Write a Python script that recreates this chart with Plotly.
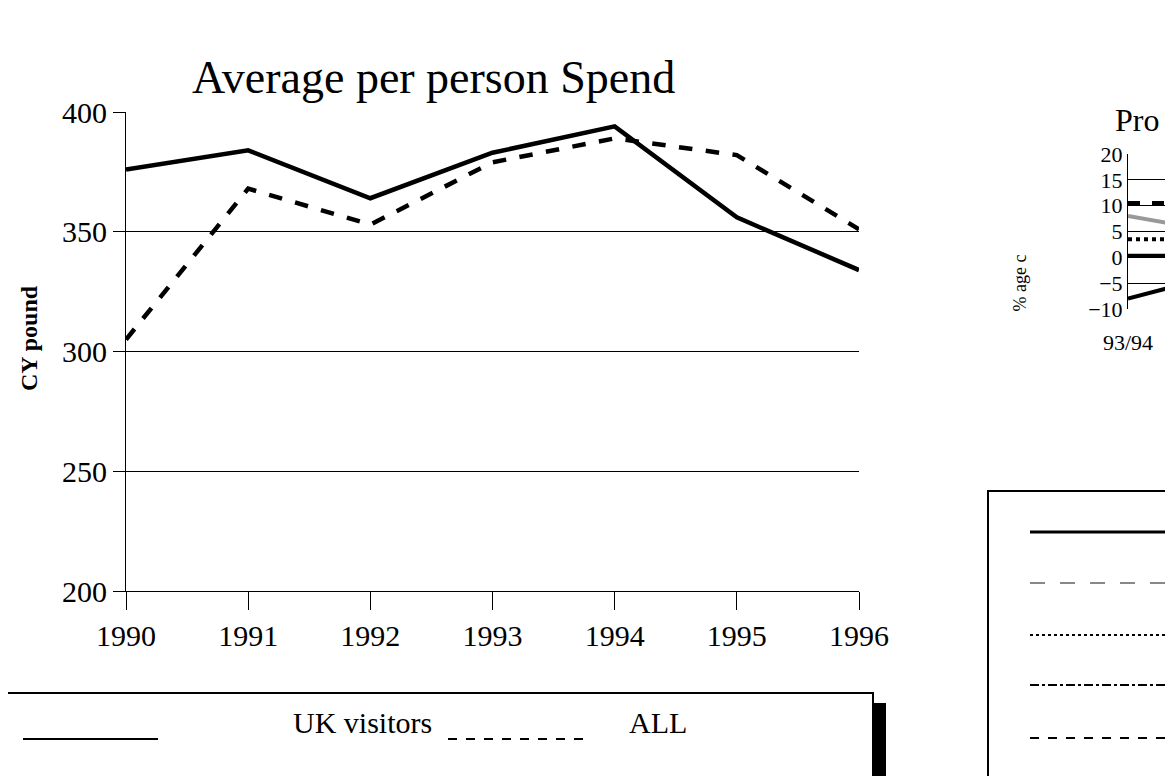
import plotly.graph_objects as go

years = [1990, 1991, 1992, 1993, 1994, 1995, 1996]
uk_visitors = [376, 384, 364, 383, 394, 356, 334]
all_visitors = [305, 368, 353, 379, 389, 382, 351]

# partial right-hand chart (cropped in the reference)
prop_x = [0, 1]
prop_a = [10.5, 10.5]
prop_b = [8, 4]
prop_c = [3.5, 3.5]
prop_d = [0.3, 0.3]
prop_e = [-8, -2]

W, H = 1173, 776
def px(x): return x / W
def py(y): return 1 - y / H

font = dict(family="Liberation Serif", color="black")
fig = go.Figure()
fig.add_trace(go.Scatter(x=years, y=uk_visitors, mode="lines", line=dict(color="black", width=4.5), showlegend=False))
fig.add_trace(go.Scatter(x=years, y=all_visitors, mode="lines", line=dict(color="black", width=4.5, dash="dash"), showlegend=False))

for ys, col, dash in [(prop_a, "black", "dash"), (prop_b, "#999", "solid"), (prop_c, "black", "dot"),
                      (prop_d, "black", "solid"), (prop_e, "black", "solid")]:
    fig.add_trace(go.Scatter(x=prop_x, y=ys, mode="lines", xaxis="x2", yaxis="y2",
                             line=dict(color=col, width=4, dash=dash), showlegend=False))

fig.update_layout(
    width=W, height=H, margin=dict(l=0, r=0, t=0, b=0), plot_bgcolor="white", paper_bgcolor="white",
    font=font, showlegend=False,
    xaxis=dict(domain=[px(118), px(851)], range=[1990, 1996], tickvals=years, ticks="outside", ticklen=18,
               tickcolor="black", showgrid=False, showline=True, linecolor="black", zeroline=False, automargin=False,
               tickfont=dict(size=30, family="Liberation Serif")),
    yaxis=dict(domain=[py(583), py(104)], range=[200, 400], tickvals=[200, 250, 300, 350, 400],
               ticks="outside", ticklen=12, tickcolor="black", showgrid=True, gridcolor="black", gridwidth=1,
               showline=True, linecolor="black", zeroline=False, automargin=False,
               tickfont=dict(size=30, family="Liberation Serif")),
    xaxis2=dict(domain=[px(1120), 1], range=[0, 0.45], anchor="y2", tickvals=[0], ticktext=["93/94"],
                showgrid=False, showline=False, zeroline=False, ticks="outside", ticklen=14, tickcolor="white",
                automargin=False, tickfont=dict(size=22, family="Liberation Serif")),
    yaxis2=dict(domain=[py(301), py(146)], range=[-10, 20], anchor="x2", tickvals=[-10, -5, 0, 5, 10, 15, 20],
                showgrid=True, gridcolor="black", showline=True, linecolor="black", zeroline=False, ticks="",
                automargin=False, tickfont=dict(size=22, family="Liberation Serif")),
    annotations=[
        dict(text="Average per person Spend", x=px(425), y=py(42), xref="paper", yref="paper", showarrow=False, font=dict(size=46)),
        dict(text="<b>CY pound</b>", x=px(6), y=py(330), xref="paper", yref="paper", textangle=-90, showarrow=False, font=dict(size=24)),
        dict(text="Pro", x=px(1105), y=py(92), xref="paper", yref="paper", xanchor="left", showarrow=False, font=dict(size=32)),
        dict(text="% age c", x=px(1023), y=py(245), xref="paper", yref="paper", textangle=-90, showarrow=False, font=dict(size=18)),
        dict(text="UK visitors", x=px(283), y=py(733), xref="paper", yref="paper", showarrow=False, font=dict(size=30)),
        dict(text="ALL", x=px(650), y=py(733), xref="paper", yref="paper", showarrow=False, font=dict(size=30)),
    ],
    shapes=[
        dict(type="rect", xref="paper", yref="paper", x0=px(865), x1=px(878), y0=py(775), y1=py(695), fillcolor="black", line=dict(width=0)),
        dict(type="rect", xref="paper", yref="paper", x0=px(-2), x1=px(865), y0=py(770), y1=py(685), line=dict(color="black", width=2)),
        dict(type="line", xref="paper", yref="paper", x0=px(15), x1=px(150), y0=py(731), y1=py(731), line=dict(color="black", width=2)),
        dict(type="line", xref="paper", yref="paper", x0=px(440), x1=px(575), y0=py(731), y1=py(731), line=dict(color="black", width=2, dash="dash")),
        dict(type="rect", xref="paper", yref="paper", x0=px(980), x1=px(1180), y0=py(770), y1=py(483), line=dict(color="black", width=2)),
        dict(type="line", xref="paper", yref="paper", x0=px(1022), x1=px(1160), y0=py(524), y1=py(524), line=dict(color="black", width=3)),
        dict(type="line", xref="paper", yref="paper", x0=px(1022), x1=px(1160), y0=py(575), y1=py(575), line=dict(color="#888", width=2, dash="longdash")),
        dict(type="line", xref="paper", yref="paper", x0=px(1022), x1=px(1160), y0=py(627), y1=py(627), line=dict(color="black", width=2, dash="dot")),
        dict(type="line", xref="paper", yref="paper", x0=px(1022), x1=px(1160), y0=py(677), y1=py(677), line=dict(color="black", width=2, dash="dashdot")),
        dict(type="line", xref="paper", yref="paper", x0=px(1022), x1=px(1160), y0=py(730), y1=py(730), line=dict(color="black", width=2, dash="dash")),
    ],
)
fig.write_html("out.html")
